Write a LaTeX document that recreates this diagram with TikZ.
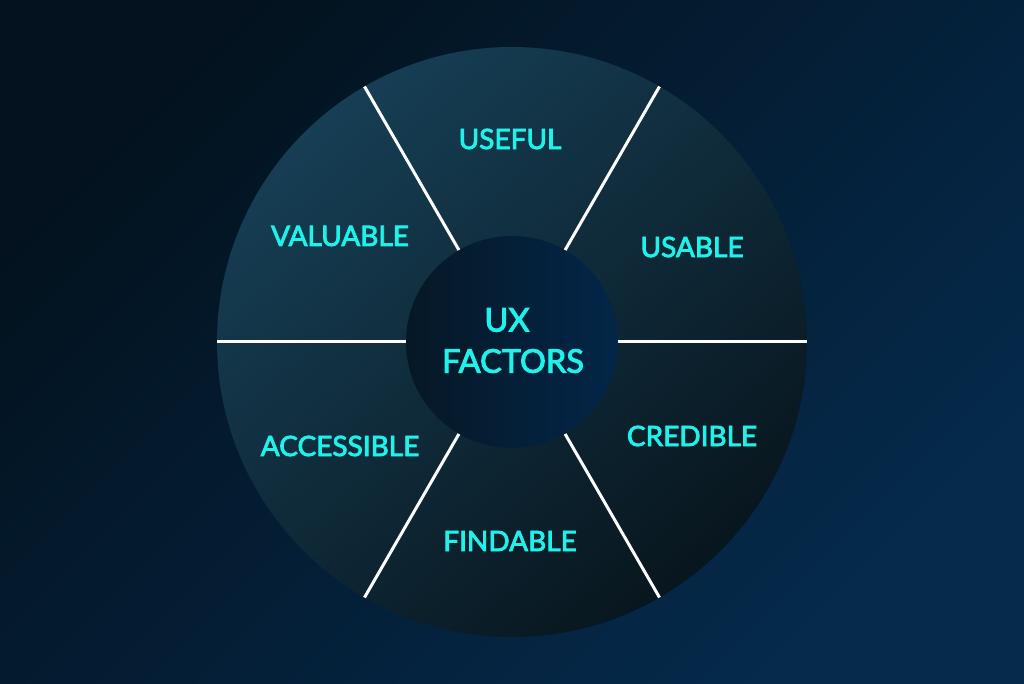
\documentclass[tikz,border=0pt]{standalone}
\usepackage{fontspec}
\setmainfont{Lato}[FakeBold=3]
\definecolor{bgdark}{RGB}{3,18,30}
\definecolor{bglight}{RGB}{5,42,76}
\definecolor{ringlight}{RGB}{22,62,84}
\definecolor{ringdark}{RGB}{8,22,30}
\definecolor{hubdark}{RGB}{6,24,38}
\definecolor{hublight}{RGB}{3,38,72}
\definecolor{labelcyan}{RGB}{30,242,234}
\tikzset{
  ring/.style={circle, inner sep=0pt, outer sep=0pt, minimum size=590pt,
    top color=ringlight, bottom color=ringdark, shading angle=40},
  hub/.style={circle, inner sep=0pt, outer sep=0pt, minimum size=212pt,
    left color=hubdark, right color=hublight},
  divider/.style={draw=white, line width=3pt},
  factor/.style={text=labelcyan, font=\fontsize{28}{32}\selectfont, inner sep=0pt},
  hubtext/.style={text=labelcyan, font=\fontsize{32.5}{38}\selectfont, inner sep=0pt},
}
\begin{document}
\begin{tikzpicture}[x=1pt,y=1pt]
\useasboundingbox (0,0) rectangle (1024,683);
\shade[top color=bgdark, bottom color=bglight, shading angle=45] (0,0) rectangle (1024,683);
\node[ring] (outer) at (512,341) {};
\foreach \a in {0,60,120,180,240,300} {
  \draw[divider] (outer.center) ++(\a:106pt) -- (outer.\a);
}
\node[hub] (inner) at (512,341) {};
\node[factor] (useful) at (510,544) {USEFUL};
\node[factor] (usable) at (692,436) {USABLE};
\node[factor] (credible) at (692,247) {CREDIBLE};
\node[factor] (findable) at (510,142) {FINDABLE};
\node[factor] (accessible) at (340,237) {ACCESSIBLE};
\node[factor] (valuable) at (340,447) {VALUABLE};
\node[hubtext] (ux) at (507,363) {UX};
\node[hubtext] (factors) at (513,322) {FACTORS};
\end{tikzpicture}
\end{document}
